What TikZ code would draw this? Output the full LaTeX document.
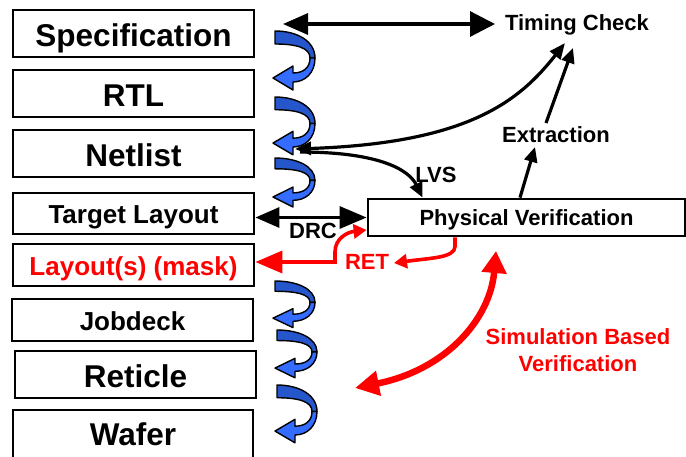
\documentclass[tikz,border=0pt]{standalone}
\usepackage{fontspec}
\setmainfont{Liberation Sans}
\usetikzlibrary{arrows.meta}
\definecolor{curldark}{RGB}{38,86,204}
\definecolor{curllight}{RGB}{52,108,255}
\definecolor{mred}{RGB}{255,0,0}
\tikzset{
  box/.style={draw=black, line width=2.8pt, fill=white, inner sep=0pt, text depth=0pt},
  bigtxt/.style={font=\fontsize{31.5}{34}\selectfont\bfseries, text height=25pt},
  midtxt/.style={font=\fontsize{26}{29}\selectfont\bfseries, text height=20.5pt},
  lbl/.style={font=\fontsize{22}{26}\selectfont\bfseries, inner sep=0pt, text height=15.8pt, text depth=0pt},
  blk/.style={draw=black, line width=3.2pt},
  redln/.style={draw=mred, line width=3.6pt},
  curl/.pic={
    % back face of the ribbon (darker)
    \filldraw[fill=curldark, draw=black, line width=1.4pt, line join=round]
      (0,0) .. controls (22,0) and (40,10) .. (40,27) -- (35,27)
      .. controls (35,17) and (22,13) .. (0,13) -- cycle;
    % front face with the arrow head
    \filldraw[fill=curllight, draw=black, line width=1.4pt, line join=round]
      (40,27) .. controls (40,42) and (30,51) .. (18,51) -- (18,59) -- (-2,47)
      -- (18,35) -- (18,42) .. controls (28,42) and (35,37) .. (35,27) -- cycle;
  }
}
\begin{document}
\begin{tikzpicture}[x=1pt, y=-1pt]
\useasboundingbox (0,0) rectangle (686,456);
\fill[white] (0,0) rectangle (686,456);
\clip (0,0) rectangle (686,456);

% design flow boxes
\node[box, bigtxt, minimum width=241pt, minimum height=47pt] (spec) at (133.5,33.5) {Specification};
\node[box, bigtxt, minimum width=241pt, minimum height=47pt] (rtl) at (133.5,93.5) {RTL};
\node[box, bigtxt, minimum width=241pt, minimum height=47pt] (net) at (133.5,153.5) {Netlist};
\node[box, midtxt, minimum width=241pt, minimum height=41pt] (tl) at (133.5,213.5) {Target Layout};
\node[box, midtxt, minimum width=241pt, minimum height=42pt, text=mred] (lay) at (133.5,265) {Layout(s) (mask)};
\node[box, midtxt, minimum width=241pt, minimum height=42pt] (job) at (132.5,320) {Jobdeck};
\node[box, bigtxt, minimum width=241pt, minimum height=47pt] (ret) at (135.5,374.5) {Reticle};
\node[box, bigtxt, minimum width=240pt, minimum height=52pt, text height=18pt] (waf) at (133,436) {Wafer};

% flow curls between the boxes
\pic at (275,31) {curl};
\pic[yscale=0.98] at (275,97) {curl};
\pic[yscale=0.83] at (275,158) {curl};
\pic[yscale=0.79] at (275,281) {curl};
\pic[yscale=0.81] at (277,330) {curl};
\pic[yscale=0.98] at (277,385) {curl};

% verification side
\node[lbl] (tc) at (577,23) {Timing Check};
\node[lbl] (ext) at (556,135) {Extraction};
\node[lbl] (lvs) at (436,175) {LVS};
\node[box, lbl, minimum width=317pt, minimum height=37pt] (pv) at (526.5,217.5) {Physical Verification};
\node[lbl] (drc) at (313,231) {DRC};
\node[lbl, text=mred] (retl) at (367,262) {RET};
\node[font=\fontsize{22}{27}\selectfont\bfseries, text=mred, align=center, inner sep=0pt, anchor=base] (sbv) at (578,371) {Simulation Based\\Verification};

\coordinate (specR) at (283,24);
\coordinate (tcL) at (495,24);
\coordinate (netR) at (295,149);
\coordinate (netR2) at (300,152);
\coordinate (tcA) at (565,43);
\coordinate (tcB) at (573,48);
\coordinate (extS) at (535,147);
\coordinate (extN) at (546,123);
\coordinate (retR) at (394,263);
\coordinate (retJ) at (335,262);
\coordinate (svT) at (496,251);
\coordinate (svB) at (355,388);

% black connectors
\draw[blk, {Triangle[length=25pt,width=21pt]}-{Triangle[length=25pt,width=25pt]}] (specR) -- (tcL);
\draw[blk, {Triangle[length=16pt,width=13pt]}-{Triangle[length=16pt,width=13pt]}]
  (netR) .. controls (470,143) and (520,100) .. (tcA);
\draw[blk, -{Triangle[length=15pt,width=13pt]}]
  (netR2) .. controls (375,152) and (408,168) .. ([xshift=56pt]pv.north west);
\draw[blk, -{Triangle[length=15pt,width=13pt]}] ([xshift=-6.5pt]pv.north) -- (extS);
\draw[blk, -{Triangle[length=15pt,width=13pt]}] (extN) -- (tcB);
\draw[blk, {Triangle[length=24pt,width=20pt]}-{Triangle[length=27pt,width=22pt]}] (tl.east |- pv.west) -- (pv.west);

% red connectors
\draw[redln, {Triangle[length=27pt,width=22pt]}-{Triangle[length=13pt,width=14pt]}]
  ([yshift=3pt]lay.east) -- (retJ) -- ++(0,-10) .. controls (335,238) and (348,232) .. ([yshift=-12.5pt]pv.west);
\draw[redln, -{Triangle[length=13pt,width=14pt]}]
  ([xshift=-71.5pt]pv.south) -- ++(0,9) .. controls (455,258) and (430,258) .. (retR);
\draw[mred, line width=6.5pt, {Triangle[length=24pt,width=24pt]}-{Triangle[length=22pt,width=24pt]}]
  (svB) .. controls (445,370) and (490,320) .. (svT);
\end{tikzpicture}
\end{document}
